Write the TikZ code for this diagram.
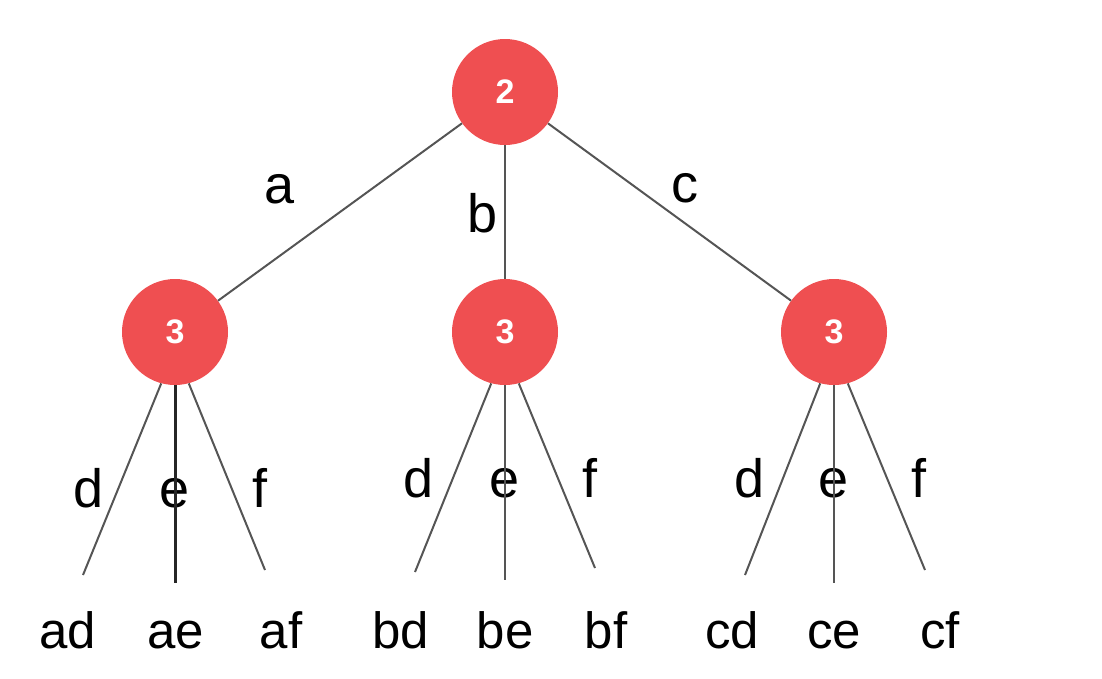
\documentclass[tikz,border=0pt]{standalone}
\usepackage{fontspec}
\setmainfont{Liberation Sans}
\definecolor{nodered}{RGB}{239,79,81}
\definecolor{edgegray}{RGB}{85,85,85}
\tikzset{
  state/.style={circle, fill=nodered, minimum size=106pt, inner sep=0pt, text=white, font=\fontsize{34}{40}\selectfont\bfseries},
  edge/.style={draw=edgegray, line width=2pt},
  lbl/.style={anchor=base, font=\fontsize{54}{64}\selectfont},
  leaf/.style={anchor=base, font=\fontsize{51}{61}\selectfont}
}
\begin{document}
\begin{tikzpicture}[x=1pt,y=-1pt]
\useasboundingbox (0,0) rectangle (1102,678);
\node[state] (root) at (505,92) {2};
\node[state] (na) at (175,332) {3};
\node[state] (nb) at (505,332) {3};
\node[state] (nc) at (834,332) {3};
\draw[edge] (root) -- (na);
\draw[edge] (root) -- (nb);
\draw[edge] (root) -- (nc);
\node[lbl] (la) at (280,203) {a};
\node[lbl] (lb) at (483,232) {b};
\node[lbl] (lc) at (685,202) {c};
\coordinate (ad-end) at (83,575);
\coordinate (ae-end) at (175,583);
\coordinate (af-end) at (265,570);
\coordinate (bd-end) at (415,572);
\coordinate (be-end) at (505,580);
\coordinate (bf-end) at (595,568);
\coordinate (cd-end) at (745,575);
\coordinate (ce-end) at (834,583);
\coordinate (cf-end) at (925,570);
\node[lbl] (lad) at (89,507) {d};
\node[lbl] (lae) at (175,507) {e};
\node[lbl] (laf) at (260,507) {f};
\node[lbl] (lbd) at (419,497) {d};
\node[lbl] (lbe) at (505,497) {e};
\node[lbl] (lbf) at (590,497) {f};
\node[lbl] (lcd) at (750,497) {d};
\node[lbl] (lce) at (834,497) {e};
\node[lbl] (lcf) at (919,497) {f};
\draw[edge] (na.-105) -- (ad-end);
\draw[edge, draw=black!85, line width=3pt] (na.south) -- (ae-end);
\draw[edge] (na.-75) -- (af-end);
\draw[edge] (nb.-105) -- (bd-end);
\draw[edge, line width=2.4pt] (nb.south) -- (be-end);
\draw[edge] (nb.-75) -- (bf-end);
\draw[edge] (nc.-105) -- (cd-end);
\draw[edge, line width=2.4pt] (nc.south) -- (ce-end);
\draw[edge] (nc.-75) -- (cf-end);
\node[leaf] (ad) at (68,648) {ad};
\node[leaf] (ae) at (176,648) {ae};
\node[leaf] (af) at (281,648) {af};
\node[leaf] (bd) at (401,648) {bd};
\node[leaf] (be) at (505,648) {be};
\node[leaf] (bf) at (606,648) {bf};
\node[leaf] (cd) at (732,648) {cd};
\node[leaf] (ce) at (834,648) {ce};
\node[leaf] (cf) at (940,648) {cf};
\end{tikzpicture}
\end{document}
